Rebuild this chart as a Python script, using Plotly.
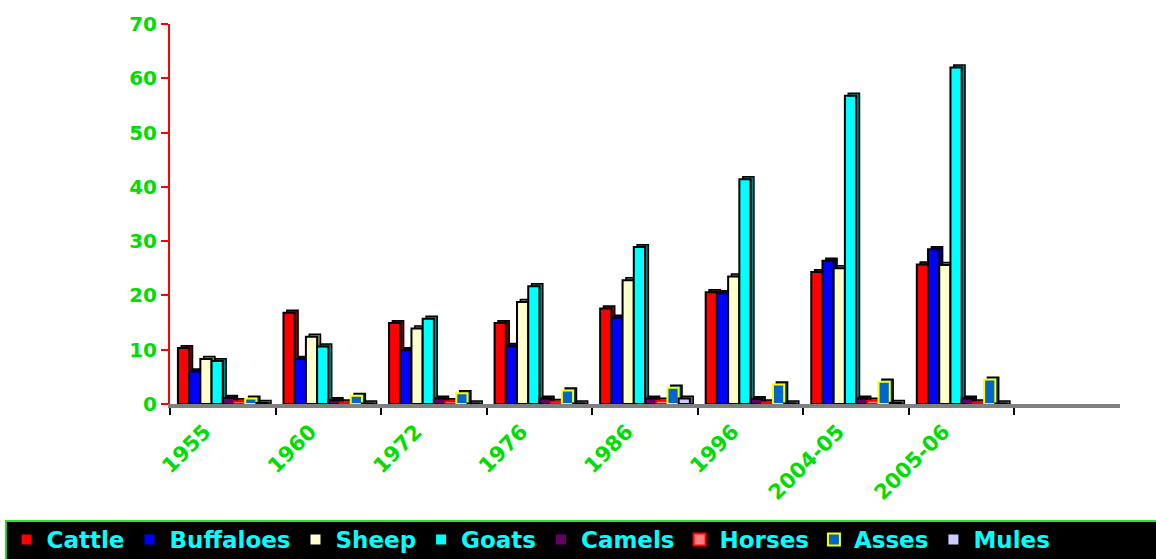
import plotly.graph_objects as go

years = ["1955", "1960", "1972", "1976", "1986", "1996", "2004-05", "2005-06"]
cattle = [10.3, 16.8, 14.9, 14.9, 17.6, 20.6, 24.3, 25.7]
buffaloes = [6.0, 8.3, 9.9, 10.7, 15.9, 20.4, 26.4, 28.5]
sheep = [8.3, 12.4, 13.9, 18.8, 22.8, 23.5, 25.0, 25.6]
goats = [7.9, 10.6, 15.7, 21.7, 28.9, 41.4, 56.8, 62.0]
camels = [1.1, 0.7, 1.0, 1.0, 1.0, 0.9, 1.0, 1.0]
horses = [0.5, 0.3, 0.5, 0.4, 0.6, 0.3, 0.6, 0.3]
asses = [1.0, 1.5, 2.0, 2.5, 3.0, 3.6, 4.1, 4.5]
mules = [0.2, 0.1, 0.1, 0.1, 1.0, 0.1, 0.2, 0.1]

# name, values, front colour, edge colour, side (depth) colour
series = [
    ("Cattle", cattle, "#FF0000", "#000000", "#800000"),
    ("Buffaloes", buffaloes, "#0000FF", "#000000", "#000080"),
    ("Sheep", sheep, "#FFFFCC", "#000000", "#808066"),
    ("Goats", goats, "#00FFFF", "#000000", "#008080"),
    ("Camels", camels, "#660066", "#000000", "#330033"),
    ("Horses", horses, "#FF8080", "#FF0000", "#804040"),
    ("Asses", asses, "#0066CC", "#FFFF00", "#003366"),
    ("Mules", mules, "#CCCCFF", "#000000", "#666680"),
]

group_width = 0.85
bar_w = group_width / len(series)
depth_x = 0.032   # depth of the pseudo-3D side, in category units
depth_y = 0.45    # depth of the pseudo-3D top, in value units

fig = go.Figure()
for i, (name, vals, fill, edge, side) in enumerate(series):
    off = -group_width / 2 + i * bar_w
    fig.add_trace(go.Bar(
        x=years, y=[v + depth_y for v in vals], offset=off + depth_x, width=bar_w,
        marker=dict(color=side, line=dict(color="#000000", width=1.5)),
        showlegend=False, hoverinfo="skip",
    ))
    fig.add_trace(go.Bar(
        name=name, x=years, y=vals, offset=off, width=bar_w,
        marker=dict(color=fill, line=dict(color=edge, width=2)),
    ))

green = "#00DD00"
tickfam = "DejaVu Sans, Liberation Sans, Arial, sans-serif"
fig.update_layout(
    width=1156, height=559,
    margin=dict(l=170, r=36, t=24, b=155, autoexpand=False),
    paper_bgcolor="white", plot_bgcolor="white",
    barmode="overlay",
    font=dict(family="Liberation Sans, Arial, sans-serif"),
    showlegend=True,
    legend=dict(
        orientation="h", x=-0.172, xanchor="left", y=-0.3, yanchor="top",
        bgcolor="rgba(0,0,0,0)",
        font=dict(color="#00FFFF", size=23, family=tickfam, weight="bold"),
        itemsizing="constant", traceorder="normal", itemwidth=30,
    ),
    shapes=[dict(
        type="rect", xref="paper", yref="paper",
        x0=-0.1728, x1=1.04, y0=-0.308, y1=-0.42,
        fillcolor="#000000", line=dict(color="#33DD33", width=2), layer="below",
    )],
)
fig.update_xaxes(
    type="category", categoryorder="array", categoryarray=years,
    range=[-0.5, 8.5], tickson="boundaries",
    showline=True, linecolor="#808080", linewidth=4,
    ticks="outside", tickcolor="#000000", ticklen=7, tickwidth=2,
    tickangle=-45, ticklabelstandoff=3, ticklabelshift=-18,
    tickfont=dict(color=green, size=21, family=tickfam, weight="bold"),
    showgrid=False, zeroline=False,
)
fig.update_yaxes(
    range=[0, 70], dtick=10,
    showline=True, linecolor="#FF0000", linewidth=2,
    ticks="outside", tickcolor="#FF0000", ticklen=7, tickwidth=2,
    tickfont=dict(color=green, size=20, family=tickfam, weight="bold"),
    showgrid=False, zeroline=False,
)

fig.write_html("out.html")
